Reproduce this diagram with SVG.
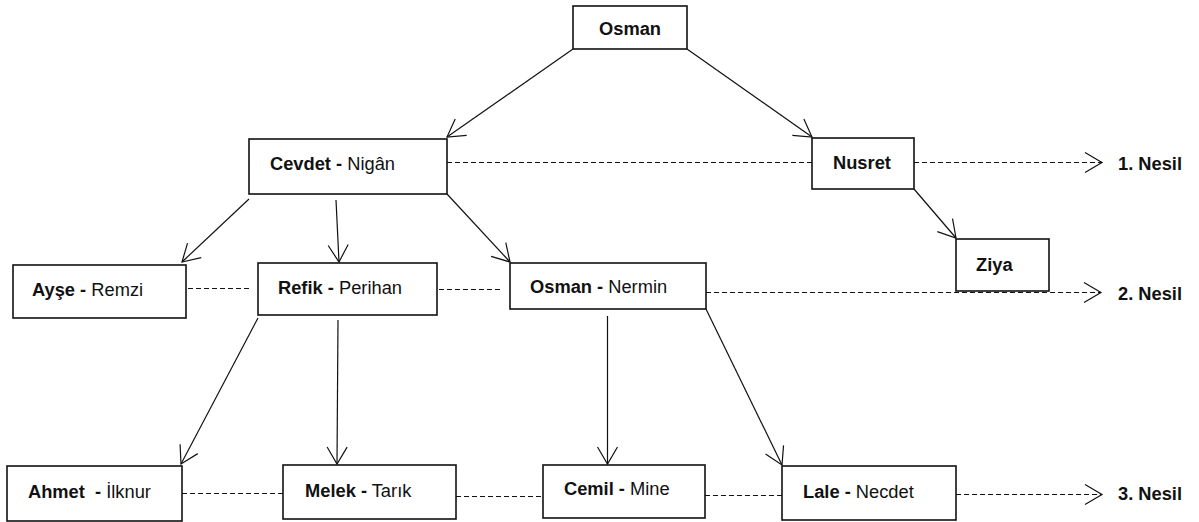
<svg xmlns="http://www.w3.org/2000/svg" width="1199" height="522" viewBox="0 0 1199 522">
<style>
.box{fill:#fff;stroke:#111;stroke-width:1.6}
.t{font-family:"Liberation Sans",Arial,sans-serif;font-size:18.3px;fill:#111}
.b{font-weight:bold}
.arr{stroke:#111;stroke-width:1.2;fill:none;marker-end:url(#v)}
.dash{stroke:#111;stroke-width:1.1;fill:none;stroke-dasharray:5 3}
.dasharr{stroke:#111;stroke-width:1.1;fill:none;stroke-dasharray:5 3;marker-end:url(#v)}
</style>
<defs>
<marker id="v" markerUnits="userSpaceOnUse" markerWidth="40" markerHeight="40" refX="0" refY="0" viewBox="-20 -20 40 40" orient="auto" overflow="visible">
<path d="M-17,-10 L0,0 L-17,10" fill="none" stroke="#111" stroke-width="1.2" stroke-dasharray="none"/>
</marker>
</defs>
<rect width="1199" height="522" fill="#fff"/>
<g id="connectors">
<line class="arr" x1="573" y1="49" x2="447" y2="137"/>
<line class="arr" x1="687" y1="49" x2="812" y2="137"/>
<line class="arr" x1="249" y1="199" x2="182" y2="262"/>
<line class="arr" x1="336" y1="200" x2="339" y2="262"/>
<line class="arr" x1="447" y1="194" x2="510" y2="262"/>
<line class="arr" x1="914" y1="189" x2="956" y2="238"/>
<line class="arr" x1="258" y1="318" x2="181" y2="464"/>
<line class="arr" x1="338" y1="320" x2="337" y2="464"/>
<line class="arr" x1="607.5" y1="316" x2="607.5" y2="464"/>
<line class="arr" x1="706" y1="309" x2="782" y2="465"/>
<line class="dash" x1="447" y1="162.5" x2="812" y2="162.5"/>
<line class="dasharr" x1="914" y1="162.5" x2="1102" y2="162.5"/>
<line class="dash" x1="188" y1="288.5" x2="252" y2="288.5"/>
<line class="dash" x1="439" y1="289.5" x2="503" y2="289.5"/>
<line class="dasharr" x1="706" y1="292.5" x2="1101" y2="292.5"/>
<line class="dash" x1="182" y1="493.5" x2="283" y2="493.5"/>
<line class="dash" x1="456" y1="496.5" x2="543" y2="496.5"/>
<line class="dash" x1="705" y1="495.5" x2="782" y2="495.5"/>
<line class="dasharr" x1="956" y1="494.5" x2="1102" y2="494.5"/>
</g>
<g id="osman"><rect class="box" x="573" y="6" width="114" height="43"/><text class="t b" x="630" y="35" text-anchor="middle">Osman</text></g>
<g id="cevdet"><rect class="box" x="249" y="139" width="198" height="55"/><text class="t" x="270" y="170"><tspan class="b">Cevdet -</tspan> Nigân</text></g>
<g id="nusret"><rect class="box" x="812" y="138" width="102" height="51"/><text class="t b" x="833" y="169">Nusret</text></g>
<g id="ziya"><rect class="box" x="956" y="239" width="93" height="52"/><text class="t b" x="976" y="271">Ziya</text></g>
<g id="ayse"><rect class="box" x="13" y="265" width="173" height="53"/><text class="t" x="32" y="296"><tspan class="b">Ayşe -</tspan> Remzi</text></g>
<g id="refik"><rect class="box" x="258" y="263" width="179" height="52"/><text class="t" x="278" y="294"><tspan class="b">Refik -</tspan> Perihan</text></g>
<g id="osman-nermin"><rect class="box" x="510" y="263" width="196" height="46"/><text class="t" x="530" y="293"><tspan class="b">Osman -</tspan> Nermin</text></g>
<g id="ahmet"><rect class="box" x="7" y="466" width="175" height="55"/><text class="t" x="28" y="498" xml:space="preserve"><tspan class="b">Ahmet  -</tspan> İlknur</text></g>
<g id="melek"><rect class="box" x="283" y="465" width="173" height="54"/><text class="t" x="305" y="497"><tspan class="b">Melek -</tspan> Tarık</text></g>
<g id="cemil"><rect class="box" x="543" y="465" width="162" height="53"/><text class="t" x="564" y="495"><tspan class="b">Cemil -</tspan> Mine</text></g>
<g id="lale"><rect class="box" x="782" y="466" width="174" height="54"/><text class="t" x="803" y="498"><tspan class="b">Lale -</tspan> Necdet</text></g>
<g id="labels">
<text class="t b" x="1118" y="170">1. Nesil</text>
<text class="t b" x="1118" y="300">2. Nesil</text>
<text class="t b" x="1118" y="500">3. Nesil</text>
</g>
</svg>
